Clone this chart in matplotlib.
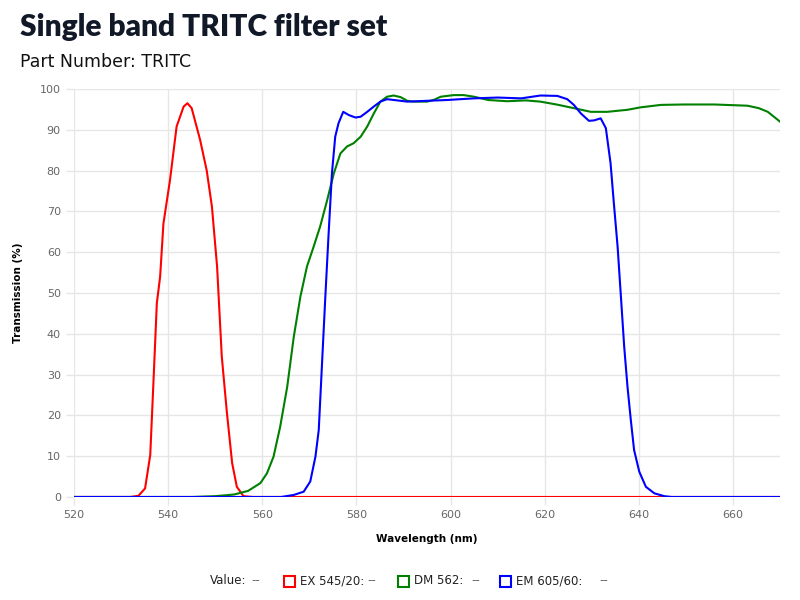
import matplotlib
matplotlib.use("Agg")
import matplotlib.pyplot as plt
from matplotlib.patches import Rectangle

# EX 545/20 (red)
ex_nm = [520, 532, 533.7, 535.1, 536.2, 536.9, 537.6, 538.3, 539.0, 540.4, 541.8,
         543.3, 544.1, 545.0, 546.8, 548.2, 549.3, 550.4, 551.4, 552.5, 553.6,
         554.6, 556.0, 558, 670]
ex_val = [0, 0, 0.3, 2.1, 10.3, 28.7, 47.5, 54, 67, 77.7, 90.8,
          95.7, 96.5, 95.3, 87.5, 80, 71.2, 56.5, 34.4, 20.5, 8.3,
          2.5, 0.2, 0, 0]

# DM 562 (green)
dm_nm = [520, 545, 550, 554, 557, 559.6, 561.0, 562.4, 563.8, 565.3, 566.7, 568.1,
         569.5, 570.9, 572.3, 573.8, 575.2, 576.6, 578.0, 579.4, 580.9, 582.3,
         583.7, 585.1, 586.5, 587.9, 589.4, 590.8, 592.2, 595.0, 596.4, 597.9,
         600.7, 602.8, 605.0, 608, 612, 616, 619.1, 622.5, 626.2, 629.8, 633.3,
         637.6, 640.4, 644.7, 649.6, 656.0, 663.1, 665.5, 667.4, 670]
dm_val = [0, 0, 0.2, 0.6, 1.5, 3.4, 5.8, 9.9, 17.2, 27, 39.3, 49.1,
          56.5, 61.3, 66.3, 72.8, 79.3, 84.2, 85.9, 86.7, 88.3, 90.8,
          94, 96.9, 98.1, 98.4, 98, 97.1, 96.9, 96.9, 97.3, 98.1,
          98.5, 98.5, 98.1, 97.3, 97, 97.2, 96.9, 96.2, 95.3, 94.4, 94.4,
          94.9, 95.5, 96.1, 96.2, 96.2, 95.9, 95.3, 94.4, 92]

# EM 605/60 (blue)
em_nm = [520, 564, 566.7, 568.8, 570.2, 571.3, 572.0, 572.7, 573.4, 574.1, 574.8,
         575.5, 576.2, 577.2, 578.4, 579.8, 580.9, 582.3, 583.7, 585.1, 586.5,
         589.4, 590.8, 595.0, 599.3, 602.1, 605.0, 610, 615, 619.1, 622.7,
         624.8, 626.2, 627.7, 629.4, 630.5, 631.9, 633.0, 634.0, 634.7, 635.5,
         636.2, 636.9, 637.6, 638.3, 639.0, 640.1, 641.5, 643.3, 645.4, 647, 670]
em_val = [0, 0, 0.5, 1.3, 3.8, 9.9, 16.4, 32.8, 49.1, 64.6, 79.3,
          88.3, 91.6, 94.4, 93.6, 93, 93.2, 94.4, 95.7, 96.9, 97.5,
          97.1, 96.9, 97.1, 97.3, 97.5, 97.7, 97.9, 97.7, 98.4, 98.3,
          97.5, 96.1, 94, 92.2, 92.3, 92.8, 90.4, 81.8, 72, 61.3,
          49.1, 36.8, 27, 18.9, 11.5, 6.2, 2.5, 0.9, 0.2, 0, 0]

series = [
    ("EX 545/20", ex_nm, ex_val, "#ff0000"),
    ("DM 562", dm_nm, dm_val, "#008000"),
    ("EM 605/60", em_nm, em_val, "#0000ff"),
]

fig = plt.figure(figsize=(8, 6), dpi=100)
ax = fig.add_axes([0.0925, 0.1717, 0.8825, 0.68])

for name, x, y, color in series:
    ax.plot(x, y, color=color, linewidth=1.5, label=name)

ax.set_xlim(520, 670)
ax.set_ylim(0, 100)
ax.set_xticks(range(520, 661, 20))
ax.set_yticks(range(0, 101, 10))
for s in ax.spines.values():
    s.set_visible(False)
ax.grid(True, color="#e6e6e6", linewidth=1)
ax.set_axisbelow(True)
ax.tick_params(colors="#666666", labelsize=8, length=6, width=1)
ax.tick_params(axis="both", color="#e6e6e6")
ax.set_xlabel("Wavelength (nm)", fontsize=7.5, fontweight="bold", labelpad=10)
ax.set_ylabel("Transmission (%)", fontsize=7.5, fontweight="bold", labelpad=12)

fig.text(0.025, 0.955, "Single band TRITC filter set", fontsize=21.5,
         fontweight="heavy", family="Lato", color="#111827", va="center")
fig.text(0.025, 0.897, "Part Number: TRITC", fontsize=12.5,
         color="#111111", va="center")

# bottom legend
ly = 1 - 581 / 600
fig.text(210 / 800, ly, "Value:", fontsize=8.5, color="#222222", va="center")
fig.text(251 / 800, ly, "--", fontsize=8.5, color="#666666", va="center")
legend_pos = [(284, 300, 367), (398, 414, 471), (500, 516, 599)]
for (name, _, _, color), (bx, tx, dx) in zip(series, legend_pos):
    fig.patches.append(Rectangle((bx / 800, ly - 5.5 / 600), 11 / 800, 11 / 600,
                                 transform=fig.transFigure, facecolor="none",
                                 edgecolor=color, linewidth=1.5))
    fig.text(tx / 800, ly, name + ":", fontsize=8.5, color="#222222", va="center")
    fig.text(dx / 800, ly, "--", fontsize=8.5, color="#666666", va="center")

fig.savefig("out.png", dpi=100)
